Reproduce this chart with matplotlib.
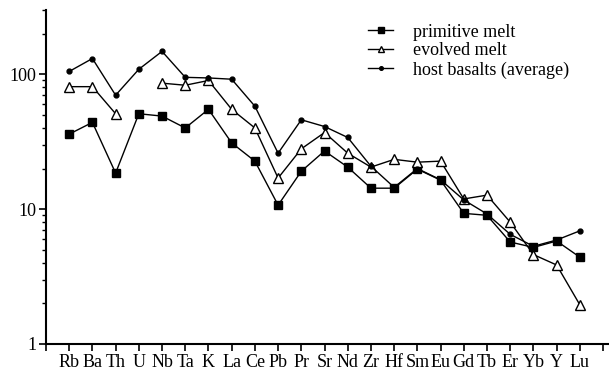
import numpy as np
import matplotlib
matplotlib.use("Agg")
from matplotlib import pyplot as plt

elements = ["Rb", "Ba", "Th", "U", "Nb", "Ta", "K", "La", "Ce", "Pb", "Pr", "Sr",
            "Nd", "Zr", "Hf", "Sm", "Eu", "Gd", "Tb", "Er", "Yb", "Y", "Lu"]

primitive = [36, 44, 18.5, 51, 49, 40, 55, 31, 22.7, 10.7, 19.1, 27,
             20.5, 14.3, 14.3, 19.8, 16.4, 9.3, 9.0, 5.7, 5.2, 5.8, 4.4]
evolved = [81, 81, 51, np.nan, 86, 83, 90, 55, 40, 17, 28, 37,
           26, 20.5, 23.4, 22.3, 22.7, 11.9, 12.7, 8.0, 4.6, 3.85, 1.95]
host = [105, 131, 70, 109, 148, 95, 94, 92, 58, 26, 46, 41,
        34, 20.8, 14.5, 20, 16.5, 11.7, 9.2, 6.5, 5.3, 5.9, 6.9]

plt.rcParams['font.family'] = ['Liberation Serif', 'DejaVu Serif']

fig = plt.figure(figsize=(6.09, 3.71), dpi=100)
ax = fig.add_axes([0.0755, 0.073, 0.93, 0.90])

x = np.arange(len(elements))
ax.plot(x, primitive, '-', color='black', lw=1, marker='s', ms=5.5,
        mfc='black', mec='black', label='primitive melt')
ax.plot(x, evolved, '-', color='black', lw=1, marker='^', ms=6.5,
        mfc='white', mec='black', mew=1, label='evolved melt')
ax.plot(x, host, '-', color='black', lw=1, marker='o', ms=3.5,
        mfc='black', mec='black', label='host basalts (average)')

ax.set_yscale('log')
ax.set_ylim(1, 300)
ax.set_xlim(-1, 23.4)
ax.set_xticks(np.arange(-1, 24))
ax.set_xticklabels([''] + elements + [''])
ax.set_yticks([1, 10, 100])
ax.set_yticklabels(['1', '10', '100'])

for s in ['top', 'right']:
    ax.spines[s].set_visible(False)
for s in ['left', 'bottom']:
    ax.spines[s].set_linewidth(1.5)

ax.tick_params(axis='both', which='major', direction='out', length=5, width=1.2,
               labelsize=13, pad=2)
ax.tick_params(axis='y', which='minor', direction='out', length=3, width=1)

ax.legend(loc='upper left', bbox_to_anchor=(0.547, 0.997), frameon=False,
          fontsize=13, handlelength=1.35, handletextpad=1.1, labelspacing=0.1,
          borderaxespad=0.3, markerscale=0.75)

fig.savefig('out.png', dpi=100)
